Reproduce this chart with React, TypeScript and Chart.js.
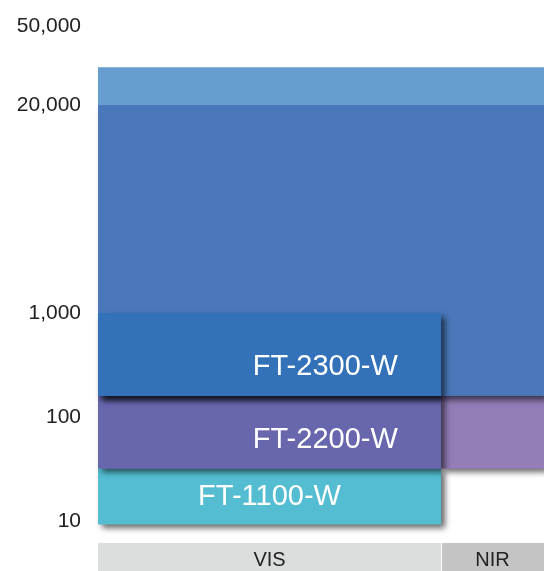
import React, { useEffect, useRef } from 'react';
import { Chart, registerables } from 'chart.js';

// ---- axis ----
const TICK_VALUES = [10, 100, 1000, 20000, 50000];
const TICK_STEPS = [0, 1, 2, 4, 4.76]; // layout steps of the (broken) log axis
const Y_MIN_STEP = -0.096;
const Y_MAX_STEP = 5;

// ---- boxes (listed bottom layer first) ----
const BOX_NAMES = ['FT-1100-W', 'FT-2200-W NIR', 'FT-2200-W', 'FT-2300-W range', 'FT-2300-W max', 'FT-2300-W'];
const BOX_X_START = [380, 780, 380, 380, 380, 380];
const BOX_X_END = [780, 900, 780, 900, 900, 780];
const BOX_Y_LOW = [9.3, 32, 32, 160, 20000, 160];
const BOX_Y_HIGH = [32, 160, 160, 20000, 31000, 1000];
const BOX_COLORS = ['#54BDD1', '#937EB8', '#6867AE', '#4A78BA', '#679DCF', '#3372B9'];
const BOX_SHADOW = [true, true, true, true, false, true];

// ---- box labels ----
const LABEL_TEXT = ['FT-2300-W', 'FT-2200-W', 'FT-1100-W'];
const LABEL_X = [645, 645, 580];
const LABEL_Y = [300, 60, 17];

// ---- spectral bands ----
const BAND_NAMES = ['VIS', 'NIR'];
const BAND_START = [380, 780];
const BAND_END = [780, 900];
const BAND_COLORS = ['#DCDDDD', '#C4C4C4'];

const FONT = "'Liberation Sans', Arial, Helvetica, sans-serif";

function toPos(v: number): number {
  const L = TICK_VALUES.map((t) => Math.log10(t));
  const lv = Math.log10(v);
  let i = 0;
  while (i < L.length - 2 && lv > L[i + 1]) i++;
  const t = (lv - L[i]) / (L[i + 1] - L[i]);
  return TICK_STEPS[i] + t * (TICK_STEPS[i + 1] - TICK_STEPS[i]);
}

const shadowPlugin = {
  id: 'boxShadow',
  beforeDatasetDraw(chart: any, args: any) {
    const ds = chart.data.datasets[args.index];
    if (!ds || !ds.boxShadow) return;
    const pts = args.meta.data;
    if (!pts || pts.length < 2) return;
    const ys = chart.scales.y;
    const x0 = pts[0].x;
    const x1 = pts[pts.length - 1].x;
    const yTop = pts[0].y;
    const yBot = ys.getPixelForValue(ds.fill.value);
    const ctx = chart.ctx;
    ctx.save();
    ctx.shadowColor = 'rgba(0,0,0,0.6)';
    ctx.shadowBlur = 6;
    ctx.shadowOffsetX = 4;
    ctx.shadowOffsetY = 4;
    ctx.fillStyle = ds.backgroundColor;
    ctx.fillRect(x0, yTop, x1 - x0, yBot - yTop);
    ctx.restore();
  },
};

Chart.register(shadowPlugin);
Chart.register(...registerables);

const bandPlugin = {
  id: 'bands',
  beforeDraw(chart: any) {
    const xs = chart.scales.x;
    const ctx = chart.ctx;
    const top = xs.top + 12;
    const bottom = xs.bottom;
    ctx.save();
    BAND_NAMES.forEach((_, i) => {
      const a = xs.getPixelForValue(BAND_START[i]);
      const b = xs.getPixelForValue(BAND_END[i]);
      ctx.fillStyle = BAND_COLORS[i];
      ctx.fillRect(a + (i > 0 ? 1 : 0), top, b - a - (i > 0 ? 1 : 0), bottom - top);
    });
    ctx.restore();
  },
};

const labelPlugin = {
  id: 'boxLabels',
  afterDatasetsDraw(chart: any) {
    const xs = chart.scales.x;
    const ys = chart.scales.y;
    const ctx = chart.ctx;
    ctx.save();
    ctx.fillStyle = '#FFFFFF';
    ctx.font = `29px ${FONT}`;
    ctx.textAlign = 'center';
    ctx.textBaseline = 'middle';
    LABEL_TEXT.forEach((t, i) => {
      ctx.fillText(t, xs.getPixelForValue(LABEL_X[i]), ys.getPixelForValue(toPos(LABEL_Y[i])));
    });
    ctx.restore();
  },
};

export default function App() {
  const ref = useRef<HTMLCanvasElement>(null);

  useEffect(() => {
    if (!ref.current) return;
    Chart.defaults.font.family = FONT;
    const n = BOX_NAMES.length;
    const datasets = BOX_NAMES.map((name, i) => ({
      type: 'line' as const,
      label: name,
      data: [
        { x: BOX_X_START[i], y: toPos(BOX_Y_HIGH[i]) },
        { x: BOX_X_END[i], y: toPos(BOX_Y_HIGH[i]) },
      ],
      backgroundColor: BOX_COLORS[i],
      borderColor: 'rgba(0,0,0,0)',
      borderWidth: 0,
      pointRadius: 0,
      pointHoverRadius: 0,
      fill: { value: toPos(BOX_Y_LOW[i]) },
      order: n - i,
      boxShadow: BOX_SHADOW[i],
    }));

    const chart = new Chart(ref.current, {
      type: 'line',
      data: { datasets: datasets as any },
      options: {
        animation: false,
        responsive: true,
        maintainAspectRatio: false,
        layout: { padding: { top: 1, left: 0, right: 0, bottom: 0 } },
        plugins: {
          legend: { display: false },
          tooltip: { enabled: false },
        },
        scales: {
          x: {
            type: 'linear',
            min: BAND_START[0],
            max: BAND_END[BAND_END.length - 1],
            grid: { display: false, drawTicks: false },
            border: { display: false },
            ticks: {
              padding: 17,
              autoSkip: false,
              maxRotation: 0,
              color: '#222',
              font: { size: 20 },
              callback: (_v: any, i: number) => BAND_NAMES[i],
            },
            afterBuildTicks: (s: any) => {
              s.ticks = BAND_START.map((a, i) => ({ value: (a + BAND_END[i]) / 2 }));
            },
            afterFit: (s: any) => {
              s.height = 40;
              s.paddingLeft = 0;
              s.paddingRight = 0;
            },
          },
          y: {
            type: 'linear',
            min: Y_MIN_STEP,
            max: Y_MAX_STEP,
            grid: { display: false, drawTicks: false },
            border: { display: false },
            ticks: {
              padding: 17,
              autoSkip: false,
              color: '#222',
              font: { size: 21 },
              callback: (_v: any, i: number) => TICK_VALUES[i].toLocaleString('en-US'),
            },
            afterBuildTicks: (s: any) => {
              s.ticks = TICK_STEPS.map((v) => ({ value: v }));
            },
            afterFit: (s: any) => {
              s.width = 98;
              s.paddingTop = 0;
              s.paddingBottom = 0;
            },
          },
        },
      },
      plugins: [bandPlugin, labelPlugin],
    });
    return () => chart.destroy();
  }, []);

  return (
    <div style={{ position: 'fixed', left: 0, top: 0, width: 544, height: 571 }}>
      <canvas ref={ref} />
    </div>
  );
}
